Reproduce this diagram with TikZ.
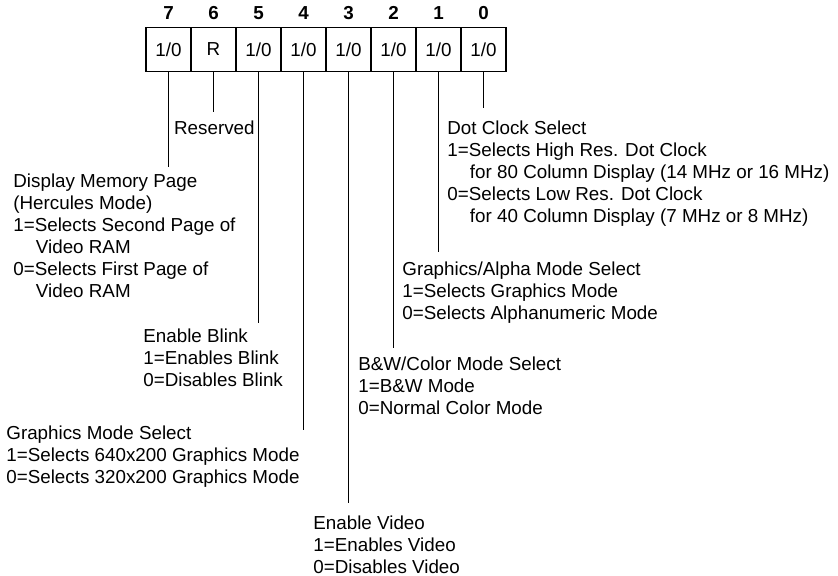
\documentclass[tikz,border=0pt]{standalone}
\usepackage{fontspec}
\setmainfont{Liberation Sans}

\begin{document}
\begin{tikzpicture}[x=0.5pt,y=0.5pt,
  every node/.style={font=\fontsize{9.4}{11}\selectfont, inner sep=0pt},
  cell/.style={draw, line width=0.75pt, minimum width=22.5pt, minimum height=22pt},
  bitno/.style={font=\fontsize{9.4}{11}\selectfont\bfseries},
  note/.style={align=left, anchor=north west},
  lead/.style={line width=0.65pt}]
\useasboundingbox (0,0) rectangle (838,575);

% bit numbers
\node [bitno] (n7) at (168.5,562) {7};
\node [bitno] (n6) at (213.5,562) {6};
\node [bitno] (n5) at (258.5,562) {5};
\node [bitno] (n4) at (303.5,562) {4};
\node [bitno] (n3) at (348.5,562) {3};
\node [bitno] (n2) at (393.5,562) {2};
\node [bitno] (n1) at (438.5,562) {1};
\node [bitno] (n0) at (483.5,562) {0};

% register cells
\node [cell] (r7) at (168.5,525.5) {1/0};
\node [cell] (r6) at (213.5,525.5) {R};
\node [cell] (r5) at (258.5,525.5) {1/0};
\node [cell] (r4) at (303.5,525.5) {1/0};
\node [cell] (r3) at (348.5,525.5) {1/0};
\node [cell] (r2) at (393.5,525.5) {1/0};
\node [cell] (r1) at (438.5,525.5) {1/0};
\node [cell] (r0) at (483.5,525.5) {1/0};

% ends of the leads
\coordinate (e7) at (168.5,408);
\coordinate (e6) at (213.5,463);
\coordinate (e5) at (258.5,252);
\coordinate (e4) at (303.5,145);
\coordinate (e3) at (348.5,72);
\coordinate (e2) at (393.5,227);
\coordinate (e1) at (438.5,323);
\coordinate (e0) at (483.5,467);

\draw [lead] (r7.south) -- (e7);
\draw [lead] (r6.south) -- (e6);
\draw [lead] (r5.south) -- (e5);
\draw [lead] (r4.south) -- (e4);
\draw [lead] (r3.south) -- (e3);
\draw [lead] (r2.south) -- (e2);
\draw [lead] (r1.south) -- (e1);
\draw [lead] (r0.south) -- (e0);

% descriptions
\node [anchor=north east] (rsv) at (255,455) {Reserved};

\node [note] (dmp) at (13,402) {Display Memory Page\\(Hercules Mode)\\1=Selects Second Page of\\\hspace*{1.2em}Video RAM\\0=Selects First Page of\\\hspace*{1.2em}Video RAM};

\node [note] (dcs) at (447,455) {Dot Clock Select\\1=Selects High Res. Dot Clock\\\hspace*{1.2em}for 80 Column Display (14 MHz or 16 MHz)\\0=Selects Low Res. Dot Clock\\\hspace*{1.2em}for 40 Column Display (7 MHz or 8 MHz)};

\node [note] (gam) at (402,314) {Graphics/Alpha Mode Select\\1=Selects Graphics Mode\\0=Selects Alphanumeric Mode};

\node [note] (blk) at (143,247) {Enable Blink\\1=Enables Blink\\0=Disables Blink};

\node [note] (bwc) at (358,219) {B\&W/Color Mode Select\\1=B\&W Mode\\0=Normal Color Mode};

\node [note] (gms) at (6,150) {Graphics Mode Select\\1=Selects 640x200 Graphics Mode\\0=Selects 320x200 Graphics Mode};

\node [note] (vid) at (313,60) {Enable Video\\1=Enables Video\\0=Disables Video};

\end{tikzpicture}
\end{document}
